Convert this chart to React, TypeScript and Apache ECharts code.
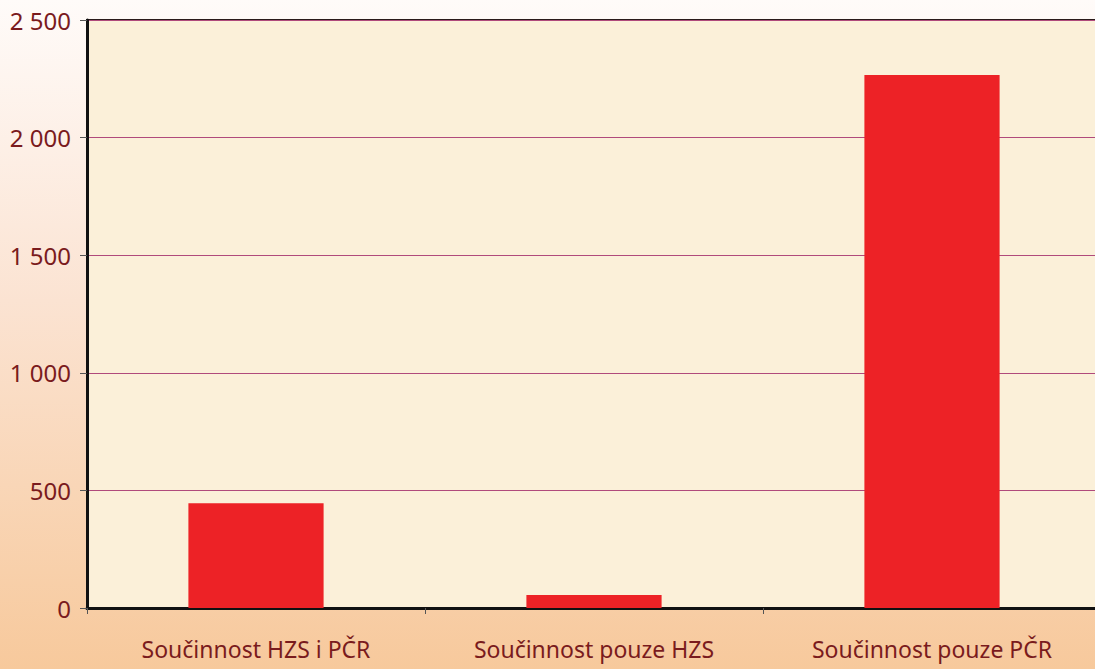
import React, { useEffect, useRef } from "react";
import * as echarts from "echarts";

const categories = ["Součinnost HZS i PČR", "Součinnost pouze HZS", "Součinnost pouze PČR"];
const values = [445, 55, 2266];
const yTicks = [0, 500, 1000, 1500, 2000, 2500];

const fmt = (v: number) => String(v).replace(/\B(?=(\d{3})+(?!\d))/g, " ");

export default function App() {
  const ref = useRef<HTMLDivElement>(null);
  useEffect(() => {
    if (!ref.current) return;
    const chart = echarts.init(ref.current, null, { renderer: "svg" });
    const textColor = "#7a1b1d";
    chart.setOption({
      animation: false,
      backgroundColor: {
        type: "linear", x: 0, y: 0, x2: 0, y2: 1,
        colorStops: [
          { offset: 0, color: "#fffbf9" },
          { offset: 0.45, color: "#fbe3d2" },
          { offset: 1, color: "#f7c99c" },
        ],
      },
      grid: {
        left: 87, right: 4, top: 20, bottom: 61,
        show: true,
        backgroundColor: "#fbf0d9",
        borderColor: "#2a1a1a",
        borderWidth: 2,
      },
      xAxis: {
        type: "category",
        data: categories,
        axisLine: { show: true, lineStyle: { color: "#111", width: 3 } },
        axisTick: { show: true, length: 6, lineStyle: { color: "#555", width: 1 } },
        axisLabel: { color: textColor, fontSize: 23, fontFamily: "Noto Sans", margin: 29 },
        splitLine: { show: false },
      },
      yAxis: {
        type: "value",
        min: yTicks[0],
        max: yTicks[yTicks.length - 1],
        interval: 500,
        axisLine: { show: true, lineStyle: { color: "#111", width: 3 } },
        axisTick: { show: true, length: 7, lineStyle: { color: "#555", width: 1 } },
        axisLabel: { color: textColor, fontSize: 24, fontFamily: "Noto Sans", margin: 16, formatter: (v: number) => fmt(v) },
        splitLine: { show: true, lineStyle: { color: "#b04a7c", width: 1 } },
      },
      series: [
        {
          type: "bar",
          data: values,
          barWidth: "40%",
          itemStyle: { color: "#ed2226" },
        },
      ],
    });
    return () => chart.dispose();
  }, []);
  return (
    <div style={{ position: "fixed", left: 0, top: 0, width: 1095, height: 669, overflow: "hidden" }}>
      <div ref={ref} style={{ width: 1105, height: 669 }} />
    </div>
  );
}
